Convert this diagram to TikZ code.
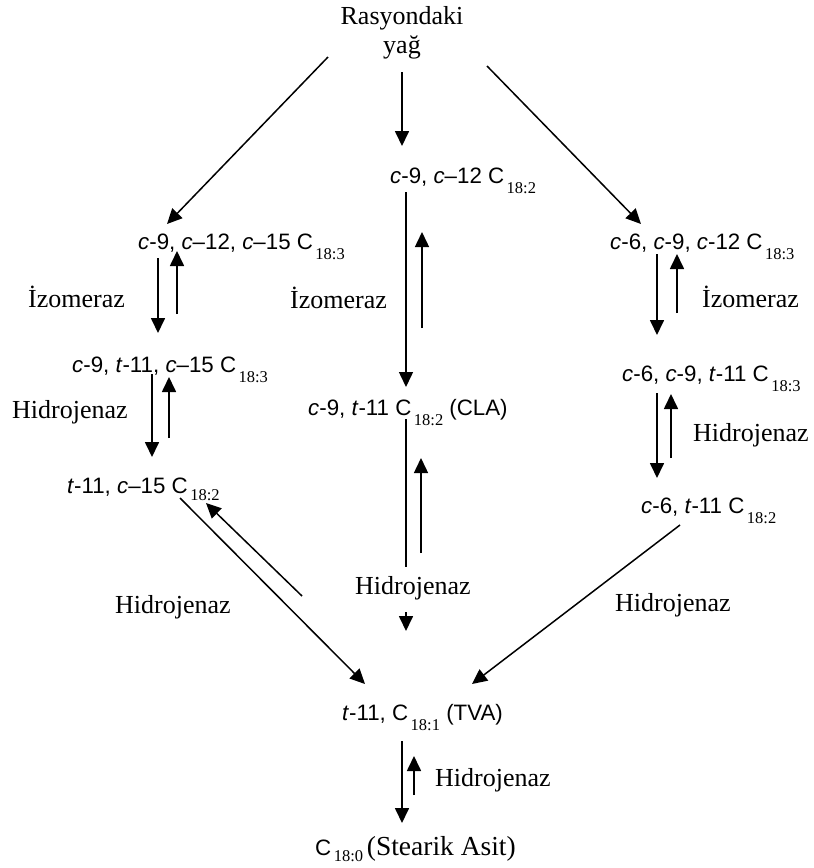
\documentclass[tikz,border=0pt]{standalone}
\usepackage{fontspec}
\setmainfont{Liberation Serif}
\newfontfamily\arialf{Liberation Sans}
\usetikzlibrary{arrows.meta}
\newcommand{\csub}[2][10.5pt]{\kern2.5pt\raisebox{-#1}{\fontsize{16.5}{16.5}\selectfont\rmfamily #2}}
\newcommand{\ci}{\textit{c}}
\newcommand{\ti}{\textit{t}}
\tikzset{
  chem/.style={font=\arialf\fontsize{22.3}{26}\selectfont, inner sep=0pt, anchor=base west},
  lab/.style={font=\fontsize{26}{29}\selectfont, inner sep=0pt, anchor=west},
  arr/.style={line width=1.7pt, -{Triangle[width=14pt,length=15pt]}},
  longarr/.style={line width=1.5pt, -{Triangle[width=14pt,length=15pt]}},
  plain/.style={line width=1.5pt}
}
\begin{document}
\begin{tikzpicture}[x=1pt,y=-1pt]
\fill[white] (0,0) rectangle (814,868);
\useasboundingbox (0,0) rectangle (814,868);

% nodes
\node[lab, anchor=center, align=center] (src) at (402,33) {Rasyondaki\\yağ};
\node[chem] (l1) at (138,249) {\ci-9, \ci–12, \ci–15 C\csub{18:3}};
\node[chem] (l2) at (72,372) {\ci-9, \ti-11, \ci–15 C\csub{18:3}};
\node[chem] (l3) at (67,493) {\ti-11, \ci–15 C\csub[7pt]{18:2}};
\node[chem] (m1) at (390,183) {\ci-9, \ci–12 C\csub{18:2}};
\node[chem] (m2) at (308,415) {\ci-9, \ti-11 C\csub{18:2} (CLA)};
\node[chem] (r1) at (610,249) {\ci-6, \ci-9, \ci-12 C\csub{18:3}};
\node[chem] (r2) at (622,381) {\ci-6, \ci-9, \ti-11 C\csub{18:3}};
\node[chem] (r3) at (641,513) {\ci-6, \ti-11 C\csub{18:2}};
\node[chem] (b1) at (342,720) {\ti-11, C\csub{18:1} (TVA)};
\node[chem] (b2) at (315,855) {C\csub[6pt]{18:0}\,{\rmfamily\fontsize{27.5}{30}\selectfont(Stearik Asit)}};

% labels
\node[lab] (iz1) at (28,297) {İzomeraz};
\node[lab] (hd1) at (12,412) {Hidrojenaz};
\node[lab] (hd2) at (115,607) {Hidrojenaz};
\node[lab] (iz2) at (290,298) {İzomeraz};
\node[lab] (hd3) at (355,588) {Hidrojenaz};
\node[lab] (iz3) at (702,297) {İzomeraz};
\node[lab] (hd4) at (693,435) {Hidrojenaz};
\node[lab] (hd5) at (615,605) {Hidrojenaz};
\node[lab] (hd6) at (435,780) {Hidrojenaz};

% connector end points
\coordinate (s0) at (402,72);   \coordinate (m1t) at (402,146);
\coordinate (sL) at (328,57);   \coordinate (l1t) at (167,224);
\coordinate (sR) at (487,66);   \coordinate (r1t) at (641,224);
\coordinate (m1b) at (406,192); \coordinate (m2t) at (406,387);
\coordinate (m2u0) at (422,328); \coordinate (m2u1) at (422,232);
\coordinate (l1d0) at (158,258); \coordinate (l1d1) at (158,333);
\coordinate (l1u0) at (177,314); \coordinate (l1u1) at (177,251);
\coordinate (l2d0) at (152,374); \coordinate (l2d1) at (152,457);
\coordinate (l2u0) at (169,438); \coordinate (l2u1) at (169,377);
\coordinate (l3d0) at (180,498); \coordinate (b1l) at (365,684);
\coordinate (l3u0) at (302,596); \coordinate (l3u1) at (206,503);
\coordinate (m2b) at (406,419); \coordinate (m3e) at (406,567);
\coordinate (m3u0) at (421,553); \coordinate (m3u1) at (421,458);
\coordinate (m4a) at (406,612); \coordinate (m4b) at (406,631);
\coordinate (r1d0) at (657,254); \coordinate (r1d1) at (657,335);
\coordinate (r1u0) at (677,313); \coordinate (r1u1) at (677,254);
\coordinate (r2d0) at (657,393); \coordinate (r2d1) at (657,478);
\coordinate (r2u0) at (671,458); \coordinate (r2u1) at (671,394);
\coordinate (r3d0) at (680,525); \coordinate (b1r) at (472,684);
\coordinate (b1d0) at (402,741); \coordinate (b2t) at (402,823);
\coordinate (b1u0) at (414,795); \coordinate (b1u1) at (414,756);

% connectors
\draw[arr] (s0) -- (m1t);
\draw[longarr] (sL) -- (l1t);
\draw[longarr] (sR) -- (r1t);
\draw[longarr] (m1b) -- (m2t);
\draw[longarr] (m2u0) -- (m2u1);
\draw[arr] (l1d0) -- (l1d1);
\draw[arr] (l1u0) -- (l1u1);
\draw[arr] (l2d0) -- (l2d1);
\draw[arr] (l2u0) -- (l2u1);
\draw[longarr] (l3d0) -- (b1l);
\draw[longarr] (l3u0) -- (l3u1);
\draw[plain] (m2b) -- (m3e);
\draw[longarr] (m3u0) -- (m3u1);
\draw[arr] (m4a) -- (m4b);
\draw[arr] (r1d0) -- (r1d1);
\draw[arr] (r1u0) -- (r1u1);
\draw[arr] (r2d0) -- (r2d1);
\draw[arr] (r2u0) -- (r2u1);
\draw[longarr] (r3d0) -- (b1r);
\draw[arr] (b1d0) -- (b2t);
\draw[arr] (b1u0) -- (b1u1);
\end{tikzpicture}
\end{document}
